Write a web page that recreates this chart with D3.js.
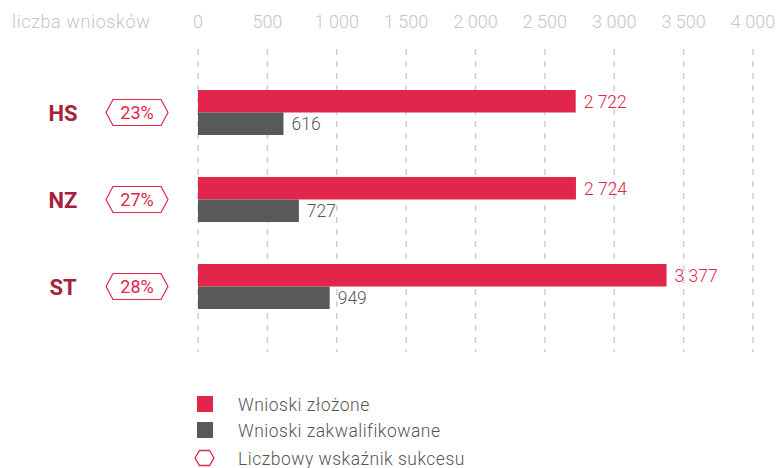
<!DOCTYPE html>
<html><head><meta charset="utf-8">
<script src="https://cdn.jsdelivr.net/npm/d3@7"></script>
<style>body{margin:0;background:#fff}svg{display:block}text{font-family:Roboto,"Open Sans",sans-serif}</style>
</head><body>
<svg id="c" width="778" height="468"></svg>
<script>
const categories = ["HS", "NZ", "ST"];
const submitted = [2722, 2724, 3377];
const qualified = [616, 727, 949];
const successRate = ["23%", "27%", "28%"];
const tickValues = [0, 500, 1000, 1500, 2000, 2500, 3000, 3500, 4000];
const axisTitle = "liczba wniosków";
const legendLabels = ["Wnioski złożone", "Wnioski zakwalifikowane", "Liczbowy wskaźnik sukcesu"];

const RED = "#e2254a", GRAY = "#58595b", DARK = "#a8203c", TICK = "#c6c6c6";
const svg = d3.select("#c");
const fmt = v => d3.format(",")(v).replace(/,/g, "\u00a0");

const x = d3.scaleLinear().domain([0, 4000]).range([198, 753]);
const y = d3.scaleBand().domain(categories).range([69, 330]).paddingInner(0.5).paddingOuter(0.25);

// gridlines
svg.append("g").selectAll("line").data(tickValues).join("line")
  .attr("x1", d => x(d)).attr("x2", d => x(d))
  .attr("y1", 49).attr("y2", 352)
  .attr("stroke", "#cfcfcf").attr("stroke-width", 1.5).attr("stroke-dasharray", "6,6");

// tick labels
svg.append("g").selectAll("text").data(tickValues).join("text")
  .attr("x", d => x(d)).attr("y", 28).attr("text-anchor", "middle")
  .attr("font-size", 18).attr("font-weight", 300).attr("fill", TICK).text(d => fmt(d));
svg.append("text").attr("x", 12).attr("y", 28).attr("font-size", 18).attr("font-weight", 300)
  .attr("letter-spacing", 0.6).attr("fill", TICK).text(axisTitle);

const bh = 22.5;
const rows = svg.append("g").selectAll("g").data(categories).join("g");
rows.each(function(c, i) {
  const g = d3.select(this);
  const mid = y(c) + y.bandwidth() / 2;
  g.append("rect").attr("x", x(0)).attr("y", mid - bh).attr("width", x(submitted[i]) - x(0)).attr("height", bh).attr("fill", RED);
  g.append("rect").attr("x", x(0)).attr("y", mid).attr("width", x(qualified[i]) - x(0)).attr("height", bh).attr("fill", GRAY);
  g.append("text").attr("x", x(submitted[i]) + 8).attr("y", mid - bh / 2 + 6.5).attr("font-size", 17.5).attr("font-weight", 300).attr("fill", RED).text(fmt(submitted[i]));
  g.append("text").attr("x", x(qualified[i]) + 8).attr("y", mid + bh / 2 + 6.5).attr("font-size", 17.5).attr("font-weight", 300).attr("fill", GRAY).text(fmt(qualified[i]));
  g.append("text").attr("x", 63).attr("y", mid + 8).attr("text-anchor", "middle").attr("font-size", 22).attr("font-weight", "bold").attr("fill", DARK).text(c);
  const cx = 137, hw = 31, hh = 13, ins = 7;
  const pts = [[cx - hw, mid], [cx - hw + ins, mid - hh], [cx + hw - ins, mid - hh], [cx + hw, mid], [cx + hw - ins, mid + hh], [cx - hw + ins, mid + hh]];
  g.append("polygon").attr("points", pts.map(p => p.join(",")).join(" ")).attr("fill", "none").attr("stroke", RED).attr("stroke-width", 1.2);
  g.append("text").attr("x", cx).attr("y", mid + 6.5).attr("text-anchor", "middle").attr("font-size", 18).attr("fill", RED).text(successRate[i]);
});

// legend
const leg = svg.append("g");
const ly = [404, 430, 458];
leg.append("rect").attr("x", 197).attr("y", ly[0] - 8).attr("width", 16).attr("height", 16).attr("fill", RED);
leg.append("rect").attr("x", 197).attr("y", ly[1] - 8).attr("width", 16).attr("height", 16).attr("fill", GRAY);
{
  const cx = 204.5, m = ly[2], hw = 9.5, hh = 7.5, ins = 4.5;
  const pts = [[cx - hw, m], [cx - hw + ins, m - hh], [cx + hw - ins, m - hh], [cx + hw, m], [cx + hw - ins, m + hh], [cx - hw + ins, m + hh]];
  leg.append("polygon").attr("points", pts.map(p => p.join(",")).join(" ")).attr("fill", "none").attr("stroke", RED).attr("stroke-width", 1.3);
}
leg.selectAll("text").data(legendLabels).join("text")
  .attr("x", 238).attr("y", (d, i) => ly[i] + 6.5).attr("font-size", 17.5).attr("font-weight", 300)
  .attr("letter-spacing", 0.5).attr("fill", "#555").text(d => d);
</script>
</body></html>
